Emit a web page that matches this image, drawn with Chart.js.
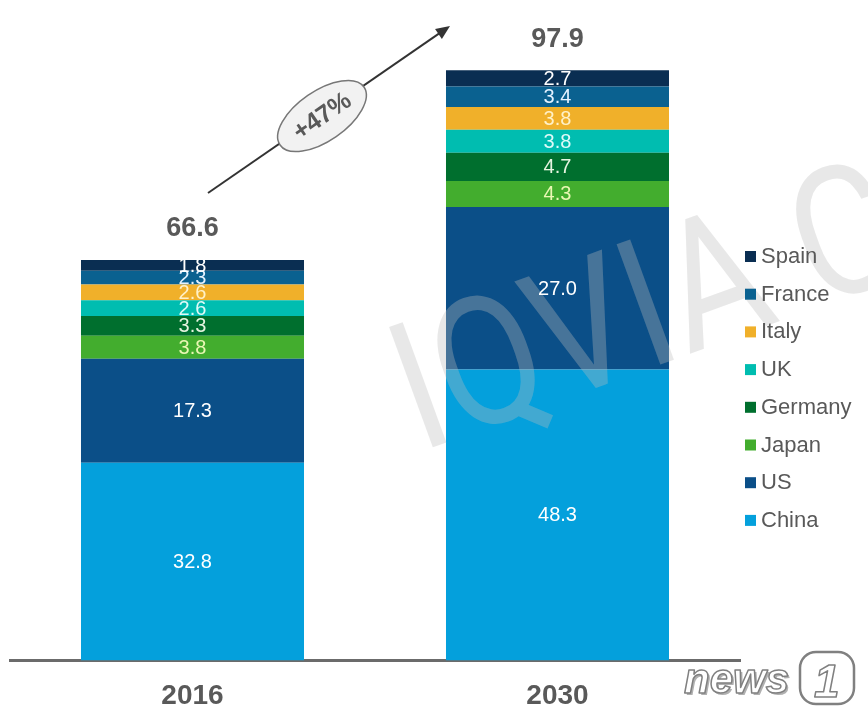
<!DOCTYPE html>
<html>
<head>
<meta charset="utf-8">
<script src="https://cdn.jsdelivr.net/npm/chart.js@4/dist/chart.umd.min.js"></script>
<style>
html,body{margin:0;padding:0;background:#fff;}
#wrap{width:868px;height:718px;position:relative;}
</style>
</head>
<body>
<div id="wrap"><canvas id="c" width="868" height="718"></canvas></div>
<script>
// ---- data ----
const categories = ['2016', '2030'];
const china   = [32.8, 48.3];
const us      = [17.3, 27.0];
const japan   = [3.8, 4.3];
const germany = [3.3, 4.7];
const uk      = [2.6, 3.8];
const italy   = [2.6, 3.8];
const france  = [2.3, 3.4];
const spain   = [1.8, 2.7];
const totals  = [66.6, 97.9];
const growthLabel = '+47%';

const series = [
  {label:'China',   data:china,   color:'#04a0dc', text:'#ffffff'},
  {label:'US',      data:us,      color:'#0b4f88', text:'#ffffff'},
  {label:'Japan',   data:japan,   color:'#43ad2e', text:'#eaf7b4'},
  {label:'Germany', data:germany, color:'#006f2e', text:'#e6f4e0'},
  {label:'UK',      data:uk,      color:'#00bdb0', text:'#defaf8'},
  {label:'Italy',   data:italy,   color:'#f0b02a', text:'#fff1c8'},
  {label:'France',  data:france,  color:'#0a6190', text:'#e4f2ff'},
  {label:'Spain',   data:spain,   color:'#0a2e52', text:'#ffffff'}
];

const GRAY = '#595959';
const FONT = '"Liberation Sans", Arial, sans-serif';

const overlay = {
  id:'overlay',
  afterDatasetsDraw(chart){
    const ctx = chart.ctx;
    const ys = chart.scales.y, xs = chart.scales.x;
    // watermark
    ctx.save();
    ctx.translate(420, 452);
    ctx.rotate(-20*Math.PI/180);
    ctx.scale(0.85, 1);
    ctx.font = '400 180px Roboto, "Liberation Sans", sans-serif';
    ctx.fillStyle = 'rgba(189,189,189,0.34)';
    ctx.textBaseline = 'alphabetic';
    ctx.fillText('IQVIA Confidential', 0, 0);
    ctx.restore();

    // segment labels
    ctx.save();
    ctx.font = '20px ' + FONT;
    ctx.textAlign = 'center';
    ctx.textBaseline = 'middle';
    chart.data.datasets.forEach((ds, i) => {
      const meta = chart.getDatasetMeta(i);
      meta.data.forEach((el, j) => {
        const v = ds.data[j];
        ctx.fillStyle = series[i].text;
        ctx.fillText(v.toFixed(1), el.x, (el.y + el.base)/2 + 1);
      });
    });
    ctx.restore();

    // totals
    ctx.save();
    ctx.font = 'bold 27px ' + FONT;
    ctx.textAlign = 'center';
    ctx.textBaseline = 'middle';
    ctx.fillStyle = GRAY;
    totals.forEach((t, j) => {
      const x = xs.getPixelForValue(j);
      const y = ys.getPixelForValue(t) - 31;
      ctx.fillText(t.toFixed(1), x, y);
    });
    ctx.restore();

    // growth arrow
    ctx.save();
    const x0 = 208, y0 = 193, x1 = 450, y1 = 26;
    const ang = Math.atan2(y1 - y0, x1 - x0);
    ctx.strokeStyle = '#333';
    ctx.lineWidth = 2;
    ctx.beginPath();
    ctx.moveTo(x0, y0);
    ctx.lineTo(x1 - 10*Math.cos(ang), y1 - 10*Math.sin(ang));
    ctx.stroke();
    ctx.fillStyle = '#333';
    ctx.beginPath();
    ctx.moveTo(x1, y1);
    ctx.lineTo(x1 - 14*Math.cos(ang) + 6*Math.sin(ang), y1 - 14*Math.sin(ang) - 6*Math.cos(ang));
    ctx.lineTo(x1 - 14*Math.cos(ang) - 6*Math.sin(ang), y1 - 14*Math.sin(ang) + 6*Math.cos(ang));
    ctx.closePath();
    ctx.fill();
    // ellipse
    ctx.translate(322, 116);
    ctx.rotate(ang);
    ctx.beginPath();
    ctx.ellipse(0, 0, 51, 25, 0, 0, Math.PI*2);
    ctx.fillStyle = '#f2f2f2';
    ctx.fill();
    ctx.strokeStyle = '#777';
    ctx.lineWidth = 1.5;
    ctx.stroke();
    ctx.fillStyle = GRAY;
    ctx.font = 'bold 25px ' + FONT;
    ctx.textAlign = 'center';
    ctx.textBaseline = 'middle';
    ctx.fillText(growthLabel, 0, 1);
    ctx.restore();

    // legend (top to bottom: Spain ... China)
    ctx.save();
    ctx.font = '22px ' + FONT;
    ctx.textBaseline = 'middle';
    ctx.textAlign = 'left';
    const order = series.slice().reverse();
    order.forEach((s, k) => {
      const cy = 257 + k*37.7;
      ctx.fillStyle = s.color;
      ctx.fillRect(745, cy - 6, 11, 11);
      ctx.fillStyle = GRAY;
      ctx.fillText(s.label, 761, cy);
    });
    ctx.restore();

    // news1 logo
    ctx.save();
    ctx.font = 'italic bold 42px ' + FONT;
    ctx.textBaseline = 'alphabetic';
    ctx.lineJoin = 'round';
    ctx.fillStyle = '#b0b0b0';
    ctx.fillText('news', 686, 695);
    ctx.fillStyle = '#ffffff';
    ctx.strokeStyle = '#808080';
    ctx.lineWidth = 1.5;
    ctx.fillText('news', 684, 693);
    ctx.strokeText('news', 684, 693);
    ctx.beginPath();
    ctx.roundRect(800, 652, 54, 52, 16);
    ctx.strokeStyle = '#808080';
    ctx.lineWidth = 2.5;
    ctx.stroke();
    ctx.fillStyle = '#ffffff';
    ctx.font = 'italic bold 46px ' + FONT;
    ctx.fillText('1', 814, 697);
    ctx.lineWidth = 1.5;
    ctx.strokeText('1', 814, 697);
    ctx.restore();
  }
};

new Chart(document.getElementById('c'), {
  type:'bar',
  data:{
    labels:categories,
    datasets:series.map(s => ({
      label:s.label,
      data:s.data,
      backgroundColor:s.color,
      borderWidth:0,
      barPercentage:0.611,
      categoryPercentage:1.0
    }))
  },
  options:{
    responsive:false,
    animation:false,
    layout:{padding:{left:10, right:128, top:10, bottom:-14}},
    plugins:{legend:{display:false}, tooltip:{enabled:false}},
    scales:{
      x:{
        stacked:true,
        grid:{display:false, drawTicks:false},
        border:{display:true, color:'#6b6b6b', width:3},
        ticks:{color:GRAY, padding:19, font:{family:FONT, size:28, weight:'bold'}}
      },
      y:{
        stacked:true,
        display:false,
        min:0,
        max:108
      }
    }
  },
  plugins:[overlay]
});
</script>
</body>
</html>
